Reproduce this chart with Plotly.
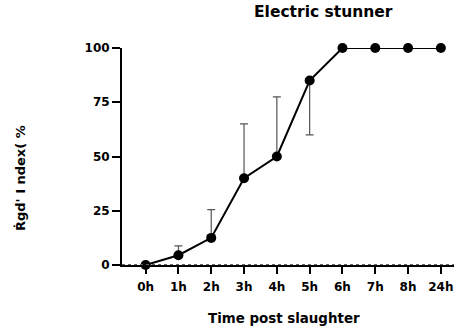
import plotly.graph_objects as go

categories = ["0h", "1h", "2h", "3h", "4h", "5h", "6h", "7h", "8h", "24h"]
values = [0, 4.5, 12.5, 40, 50, 85, 100, 100, 100, 100]
err_plus = [0, 4.3, 13, 25, 27.5, 0, 0, 0, 0, 0]
err_minus = [0, 0, 0, 0, 0, 25, 0, 0, 0, 0]
y_ticks = [0, 25, 50, 75, 100]

FONT = "DejaVu Sans, Arial, sans-serif"
fig = go.Figure()
fig.add_trace(go.Scatter(
    x=list(range(len(categories))), y=values, mode="lines+markers",
    line=dict(color="black", width=2),
    marker=dict(color="black", size=10),
    error_y=dict(type="data", symmetric=False, array=err_plus, arrayminus=err_minus,
                 color="#555555", thickness=1.2, width=4),
    cliponaxis=False, showlegend=False,
))
# dashed zero line overlay
fig.add_shape(type="line", xref="paper", yref="y", x0=0, x1=1, y0=0, y1=0,
              line=dict(color="#666666", width=2, dash="dot"), layer="above")

fig.update_layout(
    width=454, height=328,
    margin=dict(l=122, r=0, t=48, b=63),
    paper_bgcolor="white", plot_bgcolor="white",
    font=dict(family=FONT, color="black", size=12),
    annotations=[
        dict(text="<b>Electric stunner</b>", xref="paper", yref="paper",
             x=(323-122)/332, y=1, yshift=36, showarrow=False,
             font=dict(size=15.5, family=FONT), xanchor="center", yanchor="middle"),
        dict(text="<b>Time post slaughter</b>", xref="paper", yref="paper",
             x=(284-122)/332, y=0, yshift=-53, showarrow=False,
             font=dict(size=13.4, family=FONT), xanchor="center", yanchor="middle"),
        dict(text="<b>Ṙgd' I ndex( %</b>", xref="paper", yref="paper",
             x=0, xshift=-102, y=(265-178)/217, showarrow=False, textangle=-90,
             font=dict(size=13, family=FONT), xanchor="center", yanchor="middle"),
    ],
)
fig.update_xaxes(
    range=[-0.72, 9.4], tickmode="array", tickvals=list(range(len(categories))),
    ticktext=[f"<b>{c}</b>" for c in categories],
    showline=True, linecolor="black", linewidth=2,
    ticks="outside", ticklen=7, tickwidth=2, tickcolor="black",
    showgrid=False, zeroline=False, tickfont=dict(size=12),
    ticklabelstandoff=3,
)
fig.update_yaxes(
    range=[0, 100], tickvals=y_ticks, ticktext=[f"<b>{t}</b>" for t in y_ticks],
    showline=True, linecolor="black", linewidth=2,
    ticks="outside", ticklen=8, tickwidth=2, tickcolor="black",
    showgrid=False, zeroline=False, tickfont=dict(size=12),
)
fig.write_html("out.html")
